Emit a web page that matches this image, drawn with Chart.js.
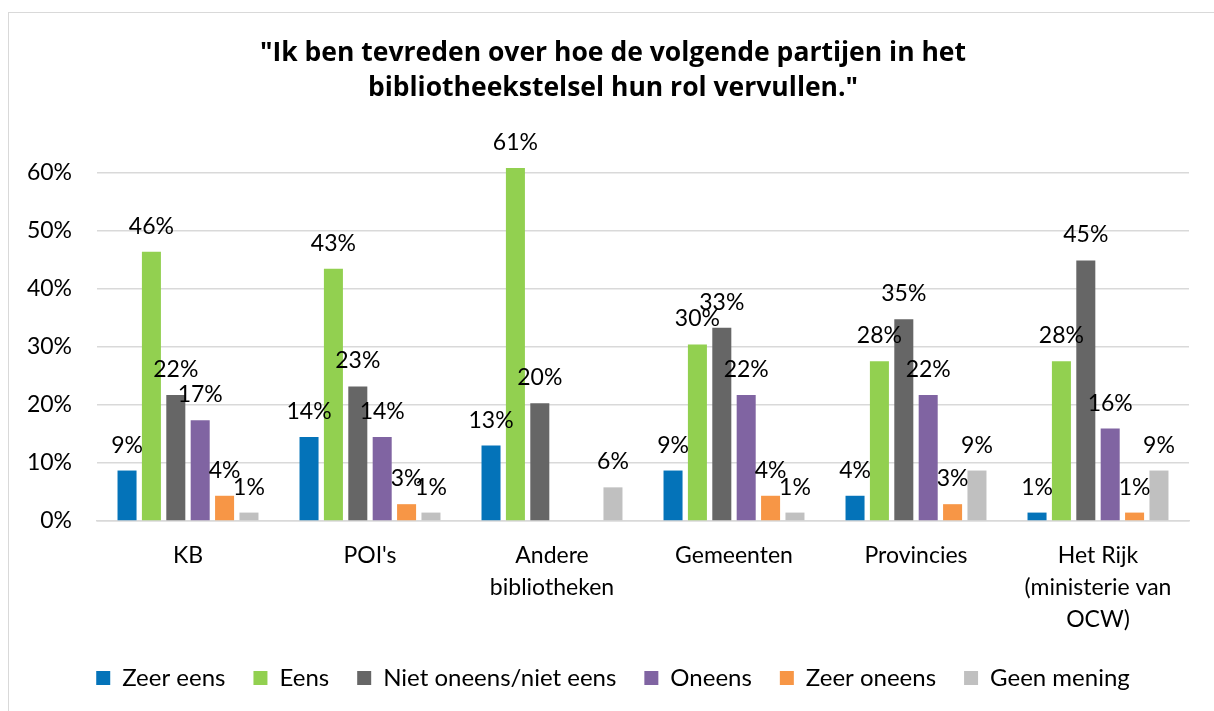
<!doctype html>
<html lang="nl">
<head>
<meta charset="utf-8">
<title>Tevredenheid partijen bibliotheekstelsel</title>
<script src="https://cdn.jsdelivr.net/npm/chart.js@4.4.1/dist/chart.umd.min.js"></script>
<style>
  html, body { margin: 0; padding: 0; background: #fff; }
  #wrap { position: relative; width: 1214px; height: 711px; overflow: hidden; }
  #frame { position: absolute; left: 8px; top: 12px; width: 1230px; height: 720px; border: 1px solid #d9d9d9; box-sizing: border-box; }
  #box { position: absolute; left: 0; top: 0; width: 1214px; height: 711px; }
</style>
</head>
<body>
<div id="wrap">
  <div id="frame"></div>
  <div id="box"><canvas id="myChart" width="1214" height="711"></canvas></div>
</div>

<script>
// categories (x axis)
var categories = [
  'KB',
  "POI's",
  ['Andere', 'bibliotheken'],
  'Gemeenten',
  'Provincies',
  ['Het Rijk', '(ministerie van', 'OCW)']
];

// series values in %
var zeerEens    = [8.7, 14.49, 13.0, 8.7, 4.35, 1.45];
var eens        = [46.4, 43.48, 60.87, 30.43, 27.54, 27.54];
var nietOneens  = [21.74, 23.19, 20.29, 33.33, 34.78, 44.93];
var oneens      = [17.39, 14.49, 0, 21.74, 21.74, 15.94];
var zeerOneens  = [4.35, 2.9, 0, 4.35, 2.9, 1.45];
var geenMening  = [1.45, 1.45, 5.8, 1.45, 8.7, 8.7];

var seriesNames = ['Zeer eens', 'Eens', 'Niet oneens/niet eens', 'Oneens', 'Zeer oneens', 'Geen mening'];
var seriesColors = ['#0473b9', '#92d050', '#666666', '#8064a2', '#f79646', '#c0c0c0'];
var yTicks = [0, 10, 20, 30, 40, 50, 60];

var titleLines = ['"Ik ben tevreden over hoe de volgende partijen in het', 'bibliotheekstelsel hun rol vervullen."'];

var FONT = 'Lato, "Open Sans", sans-serif';

var allSeries = [zeerEens, eens, nietOneens, oneens, zeerOneens, geenMening];
var datasets = allSeries.map(function (vals, i) {
  return {
    label: seriesNames[i],
    data: vals,
    backgroundColor: seriesColors[i],
    borderWidth: 0,
    barPercentage: 0.78,
    categoryPercentage: 0.804,
    clip: false
  };
});

// value labels above the bars
var barLabels = {
  id: 'barLabels',
  afterDatasetsDraw: function (chart) {
    var ctx = chart.ctx;
    ctx.save();
    ctx.font = '23px ' + FONT;
    ctx.fillStyle = '#000';
    ctx.textAlign = 'center';
    ctx.textBaseline = 'alphabetic';
    chart.data.datasets.forEach(function (ds, i) {
      var meta = chart.getDatasetMeta(i);
      meta.data.forEach(function (bar, j) {
        var v = ds.data[j];
        if (!v) return;
        ctx.fillText(Math.round(v) + '%', bar.x, bar.y - 18);
      });
    });
    ctx.restore();
  }
};

var chart = new Chart(document.getElementById('myChart'), {
  type: 'bar',
  data: { labels: categories, datasets: datasets },
  plugins: [barLabels],
  options: {
    responsive: false,
    animation: false,
    layout: { padding: { top: 16, right: 0, bottom: 11, left: 12 } },
    plugins: {
      tooltip: { enabled: false },
      title: {
        display: true,
        text: titleLines,
        color: '#000',
        font: { family: '"Open Sans", Lato, sans-serif', size: 26.5, weight: 'bold', lineHeight: 1.32 },
        padding: { top: 20, bottom: 67 }
      },
      legend: {
        position: 'bottom',
        labels: {
          color: '#000',
          font: { family: FONT, size: 24 },
          boxWidth: 14,
          boxHeight: 14,
          padding: 28
        }
      }
    },
    scales: {
      x: {
        grid: { display: false, drawTicks: false },
        border: { display: true, color: '#d9d9d9', width: 1.5 },
        ticks: {
          color: '#000',
          font: { family: FONT, size: 23, lineHeight: 1.39 },
          padding: 19,
          maxRotation: 0,
          autoSkip: false
        },
        afterFit: function (s) { s.height = 117; }
      },
      y: {
        min: 0,
        max: 60,
        afterBuildTicks: function (s) { s.ticks = yTicks.map(function (v) { return { value: v }; }); },
        grid: { color: '#d9d9d9', lineWidth: 1.5, drawTicks: false },
        border: { display: false },
        ticks: {
          color: '#000',
          font: { family: FONT, size: 23 },
          padding: 25,
          callback: function (v) { return v + '%'; }
        },
        afterFit: function (s) { s.width = 85; }
      },
      // empty right-hand gutter so the plot ends where the original does
      gutter: {
        type: 'linear',
        position: 'right',
        display: true,
        grid: { display: false, drawTicks: false },
        border: { display: false },
        ticks: { display: false },
        afterFit: function (s) { s.width = 25; }
      }
    }
  }
});
</script>
</body>
</html>
